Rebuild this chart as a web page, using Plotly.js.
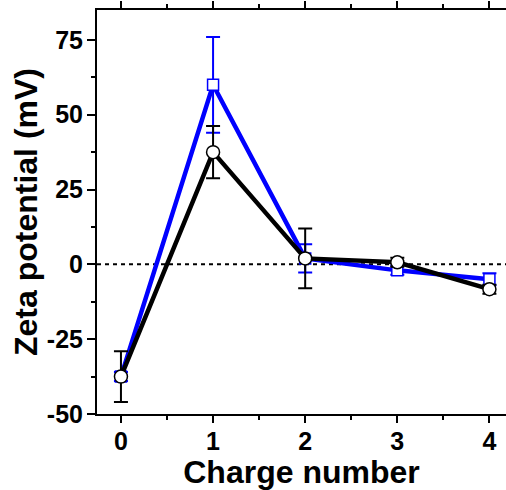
<!DOCTYPE html>
<html><head><meta charset="utf-8">
<script src="https://cdn.plot.ly/plotly-3.0.1.min.js"></script>
<style>html,body{margin:0;padding:0;background:#fff}</style>
</head><body>
<div id="chart" style="width:506px;height:490px"></div>
<script>
const chargeNumber = [0, 1, 2, 3, 4];
const blueZeta = [-37.5, 60, 2, -2, -5];
const blueErr = [1.5, 16, 4.7, 1.5, 2];
const blackZeta = [-37.5, 37.5, 2, 0.7, -8.3];
const blackErr = [8.5, 8.7, 10, 1.5, 1.5];
const xTicks = [0, 1, 2, 3, 4];
const yTicks = [-50, -25, 0, 25, 50, 75];

const traces = [
  {x: chargeNumber, y: blueZeta, type: 'scatter', mode: 'lines+markers',
   line: {color: '#0000ff', width: 4.5},
   marker: {symbol: 'square', size: 11, color: '#ffffff', line: {color: '#0000ff', width: 1.5}},
   error_y: {type: 'data', array: blueErr, visible: true, color: '#0000ff', thickness: 2, width: 7}},
  {x: chargeNumber, y: blackZeta, type: 'scatter', mode: 'lines+markers',
   line: {color: '#000000', width: 4.5},
   marker: {symbol: 'circle', size: 13, color: '#ffffff', line: {color: '#000000', width: 1.5}},
   error_y: {type: 'data', array: blackErr, visible: true, color: '#000000', thickness: 2, width: 7}}
];

const layout = {
  width: 506, height: 490,
  margin: {l: 97, r: 0, t: 10, b: 76},
  showlegend: false,
  paper_bgcolor: '#fff', plot_bgcolor: '#fff',
  font: {family: 'Liberation Sans, Arial, sans-serif', color: '#000'},
  xaxis: {
    range: [-0.26, 4.18], tickvals: xTicks, ticktext: xTicks.map(String),
    showgrid: false, zeroline: false, showline: true, linecolor: '#000', linewidth: 2,
    mirror: 'allticks', ticks: 'outside', ticklen: 7, tickwidth: 2, tickcolor: '#000',
    minor: {dtick: 0.5, tick0: 0, ticks: 'outside', ticklen: 4, tickwidth: 2, tickcolor: '#000'},
    tickfont: {size: 25, family: 'Liberation Sans, Arial, sans-serif', weight: 'bold'},
    ticklabelstandoff: -3,
    title: {text: '<b>Charge number</b>', font: {size: 32}, standoff: 0}
  },
  yaxis: {
    range: [-50, 85], tickvals: yTicks, ticktext: yTicks.map(String),
    showgrid: false, zeroline: false, showline: true, linecolor: '#000', linewidth: 2,
    mirror: false, ticks: 'outside', ticklen: 8, tickwidth: 2, tickcolor: '#000',
    minor: {dtick: 12.5, tick0: 0, ticks: 'outside', ticklen: 4, tickwidth: 2, tickcolor: '#000'},
    tickfont: {size: 25, family: 'Liberation Sans, Arial, sans-serif', weight: 'bold'},
    ticklabelstandoff: -1,
    title: {text: '<b>Zeta potential (mV)</b>', font: {size: 32}, standoff: 0}
  },
  shapes: [
    {type: 'line', xref: 'paper', x0: 0, x1: 1, yref: 'y', y0: 0, y1: 0,
     line: {color: '#000', width: 2, dash: '4px,4px'}, layer: 'below'}
  ]
};
Plotly.newPlot('chart', traces, layout, {displayModeBar: false, staticPlot: true});
</script>
</body></html>
